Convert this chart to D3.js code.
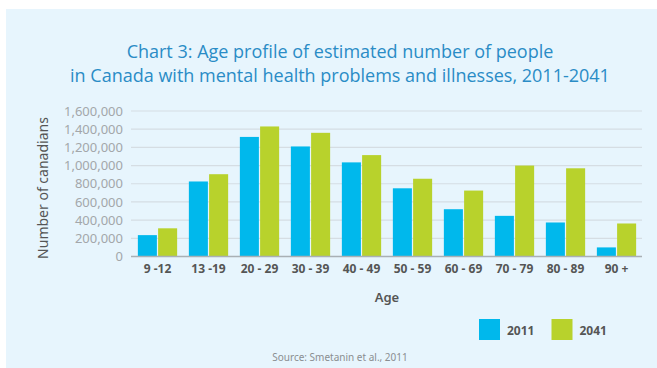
<!DOCTYPE html>
<html>
<head>
<meta charset="utf-8">
<script src="https://cdn.jsdelivr.net/npm/d3@7"></script>
<style>
  body { margin: 0; background: #fff; }
  svg { display: block; }
</style>
</head>
<body>
<svg id="chart" width="657" height="368"></svg>
<script>
// chart data
var ageGroups = ['9 -12', '13 -19', '20 - 29', '30 - 39', '40 - 49', '50 - 59', '60 - 69', '70 - 79', '80 - 89', '90 +'];
var years = ['2011', '2041'];
var values2011 = [235000, 825000, 1315000, 1210000, 1035000, 750000, 520000, 447000, 374000, 100000];
var values2041 = [310000, 905000, 1430000, 1360000, 1115000, 855000, 725000, 1000000, 970000, 363000];
var yTicks = [0, 200000, 400000, 600000, 800000, 1000000, 1200000, 1400000, 1600000];

var colors = { '2011': '#00b8ec', '2041': '#b8d22c' };

var rows = ageGroups.map(function(g, i) {
    return { group: g, '2011': values2011[i], '2041': values2041[i] };
});

var svg = d3.select('#chart');

// panel background
svg.append('rect').attr('x', 6).attr('y', 9).attr('width', 651).attr('height', 359).attr('fill', '#e7f5fd');

var xScale = d3.scaleBand().domain(ageGroups).range([132, 642]).paddingInner(0.23).paddingOuter(0.115);
var xSub = d3.scaleBand().domain(years).range([0, xScale.bandwidth()]).paddingInner(0.06);
var yScale = d3.scaleLinear().domain([0, 1600000]).range([256.5, 111]);

// gridlines
svg.append('g').attr('class', 'grid').selectAll('line').data(yTicks.slice(1)).enter().append('line')
    .attr('x1', 131).attr('x2', 642)
    .attr('y1', function(d) { return yScale(d); })
    .attr('y2', function(d) { return yScale(d); })
    .attr('stroke', '#d5dde3').attr('stroke-width', 1.2);

// bars
var groups = svg.append('g').attr('class', 'bars').selectAll('g').data(rows).enter().append('g')
    .attr('transform', function(d) { return 'translate(' + xScale(d.group) + ',0)'; });

groups.selectAll('rect').data(function(d) { return years.map(function(y) { return { year: y, value: d[y] }; }); })
    .enter().append('rect')
    .attr('x', function(d) { return xSub(d.year); })
    .attr('width', xSub.bandwidth())
    .attr('y', function(d) { return yScale(d.value); })
    .attr('height', function(d) { return yScale(0) - yScale(d.value); })
    .attr('fill', function(d) { return colors[d.year]; });

// y axis
var yAxis = d3.axisLeft(yScale).tickValues(yTicks).tickFormat(d3.format(',')).tickSize(0).tickPadding(8);
var yg = svg.append('g').attr('transform', 'translate(131,0)').call(yAxis);
yg.select('.domain').remove();
yg.selectAll('text').attr('fill', '#a3a7aa').style('font-family', 'Noto Sans').style('font-size', '13px');

// x axis
var xAxis = d3.axisBottom(xScale).tickSize(0).tickPadding(8);
var xg = svg.append('g').attr('transform', 'translate(0,' + yScale(0) + ')').call(xAxis);
xg.select('.domain').attr('d', 'M131,0H642').attr('stroke', '#a9b0b5').attr('stroke-width', 1.5);
xg.selectAll('text').attr('fill', '#555').style('font-family', 'Noto Sans').style('font-size', '12px').style('font-weight', 'bold');

// title, two lines
svg.append('text').attr('x', 340).attr('y', 57.5).attr('text-anchor', 'middle').attr('fill', '#2a8cc6')
    .style('font-family', 'Open Sans').style('font-size', '18px')
    .text('Chart 3: Age profile of estimated number of people');
svg.append('text').attr('x', 340).attr('y', 82).attr('text-anchor', 'middle').attr('fill', '#2a8cc6')
    .style('font-family', 'Open Sans').style('font-size', '18px')
    .text('in Canada with mental health problems and illnesses, 2011-2041');

// axis titles
svg.append('text').attr('transform', 'translate(48,188) rotate(-90)').attr('text-anchor', 'middle')
    .attr('fill', '#555').style('font-family', 'Noto Sans').style('font-size', '14px')
    .text('Number of canadians');
svg.append('text').attr('x', 387).attr('y', 302).attr('text-anchor', 'middle')
    .attr('fill', '#555').style('font-family', 'Noto Sans').style('font-size', '13px').style('font-weight', '600')
    .text('Age');

// legend
var legend = svg.append('g').selectAll('g').data(years).enter().append('g')
    .attr('transform', function(d, i) { return 'translate(' + (479 + i * 72.5) + ',319)'; });
legend.append('rect').attr('width', 21).attr('height', 21).attr('fill', function(d) { return colors[d]; });
legend.append('text').attr('x', 28).attr('y', 15.5).attr('fill', '#555')
    .style('font-family', 'Noto Sans').style('font-size', '12px').style('font-weight', 'bold')
    .text(function(d) { return d; });

// source
svg.append('text').attr('x', 340).attr('y', 361).attr('text-anchor', 'middle').attr('fill', '#8a8e91')
    .style('font-family', 'Noto Sans').style('font-size', '10px')
    .text('Source: Smetanin et al., 2011');
</script>
</body>
</html>
